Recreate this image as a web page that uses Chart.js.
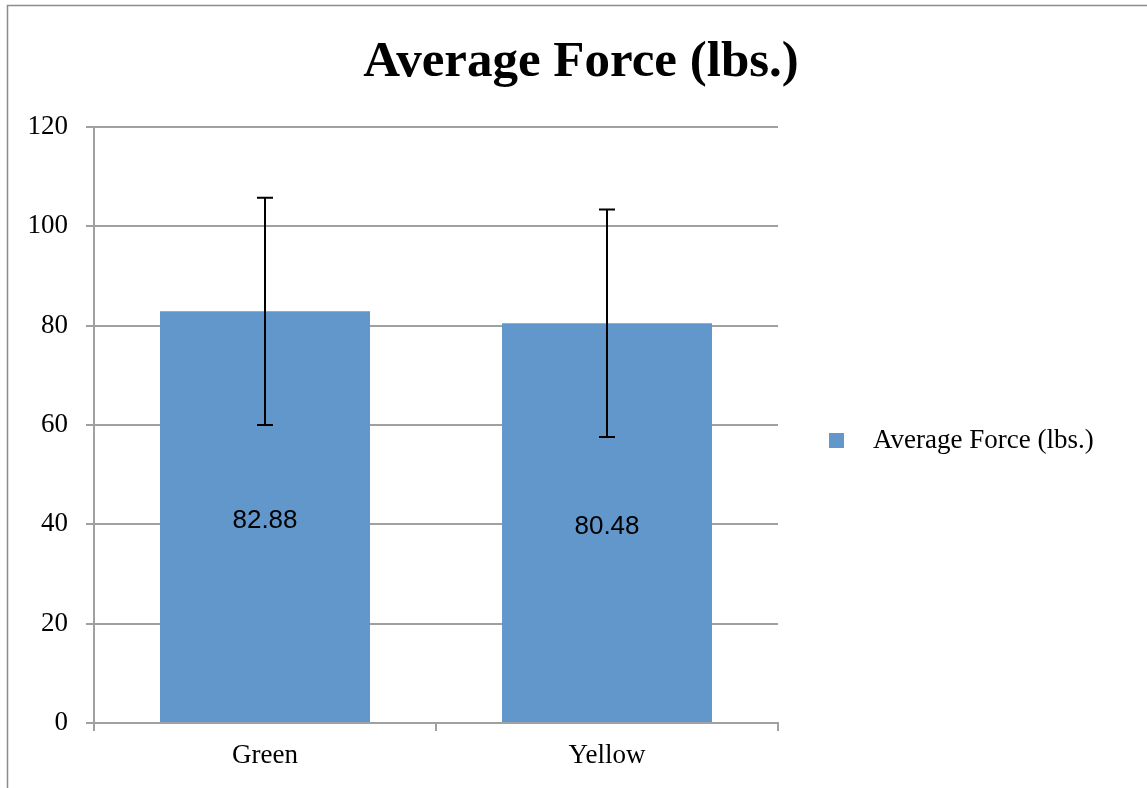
<!DOCTYPE html>
<html><head><meta charset="utf-8">
<script src="https://cdn.jsdelivr.net/npm/chart.js@4.4.0/dist/chart.umd.min.js"></script>
<style>html,body{margin:0;padding:0;background:#fff;}#wrap{width:1147px;height:788px;position:relative;}</style>
</head><body><div id="wrap"><canvas id="c" width="1147" height="788"></canvas></div>
<script>
const categories = ['Green', 'Yellow'];
const seriesName = 'Average Force (lbs.)';
const averageForce = [82.88, 80.48];
const errorPlus = [22.9, 22.9];
const errorMinus = [22.9, 22.9];
const yTicks = [0, 20, 40, 60, 80, 100, 120];
const titleText = 'Average Force (lbs.)';

const SERIF = '"Liberation Serif", "Times New Roman", serif';
const SANS = '"Liberation Sans", Arial, sans-serif';
const GRID = '#a0a0a0';

const decor = {
  id: 'decor',
  beforeDraw(chart) {
    const ctx = chart.ctx;
    ctx.save();
    ctx.strokeStyle = '#8c8c8c';
    ctx.lineWidth = 1.5;
    ctx.beginPath();
    ctx.moveTo(7.5, 800); ctx.lineTo(7.5, 5.5); ctx.lineTo(1147, 5.5);
    ctx.stroke();
    ctx.restore();
  },
  afterDatasetsDraw(chart) {
    const ctx = chart.ctx;
    const meta = chart.getDatasetMeta(0);
    const y = chart.scales.y;
    ctx.save();
    ctx.strokeStyle = '#000';
    ctx.lineWidth = 2;
    meta.data.forEach((bar, i) => {
      const v = averageForce[i];
      const yTop = y.getPixelForValue(v + errorPlus[i]);
      const yBot = y.getPixelForValue(v - errorMinus[i]);
      const x = bar.x;
      ctx.beginPath();
      ctx.moveTo(x, yTop); ctx.lineTo(x, yBot);
      ctx.moveTo(x - 8, yTop); ctx.lineTo(x + 8, yTop);
      ctx.moveTo(x - 8, yBot); ctx.lineTo(x + 8, yBot);
      ctx.stroke();
    });
    ctx.fillStyle = '#000';
    ctx.font = '26px ' + SANS;
    ctx.textAlign = 'center';
    ctx.textBaseline = 'middle';
    meta.data.forEach((bar, i) => {
      const mid = (bar.y + bar.base) / 2 + 4;
      ctx.fillText(averageForce[i].toFixed(2), bar.x, mid);
    });
    ctx.font = 'bold 51px ' + SERIF;
    ctx.fillText(titleText, 581, 63);
    ctx.fillStyle = chart.data.datasets[0].backgroundColor;
    ctx.fillRect(829, 433, 15, 15);
    ctx.fillStyle = '#000';
    ctx.font = '27px ' + SERIF;
    ctx.textAlign = 'left';
    ctx.fillText(chart.data.datasets[0].label, 873, 441);
    ctx.restore();
  }
};

new Chart(document.getElementById('c'), {
  type: 'bar',
  data: {
    labels: categories,
    datasets: [{
      label: seriesName,
      data: averageForce,
      backgroundColor: '#6297CB',
      borderWidth: 0,
      categoryPercentage: 1,
      barPercentage: 0.614
    }]
  },
  options: {
    responsive: false,
    animation: false,
    devicePixelRatio: 1,
    layout: { padding: { top: 127, right: 369, left: 0, bottom: 0 } },
    plugins: { legend: { display: false }, title: { display: false }, tooltip: { enabled: false } },
    scales: {
      x: {
        afterFit: s => { s.height = 65; },
        grid: { display: true, drawOnChartArea: false, drawTicks: true, tickLength: 8, color: GRID, lineWidth: 2, offset: true },
        border: { display: true, color: GRID, width: 2 },
        ticks: { color: '#000', font: { family: SERIF, size: 27 }, padding: 9 }
      },
      y: {
        min: 0, max: 120,
        afterFit: s => { s.width = 94; },
        afterBuildTicks: s => { s.ticks = yTicks.map(v => ({ value: v })); },
        grid: { color: GRID, lineWidth: 2, tickLength: 8, drawTicks: true },
        border: { display: true, color: GRID, width: 2 },
        ticks: { color: '#000', font: { family: SERIF, size: 27 }, padding: 18 }
      }
    }
  },
  plugins: [decor]
});
</script></body></html>
